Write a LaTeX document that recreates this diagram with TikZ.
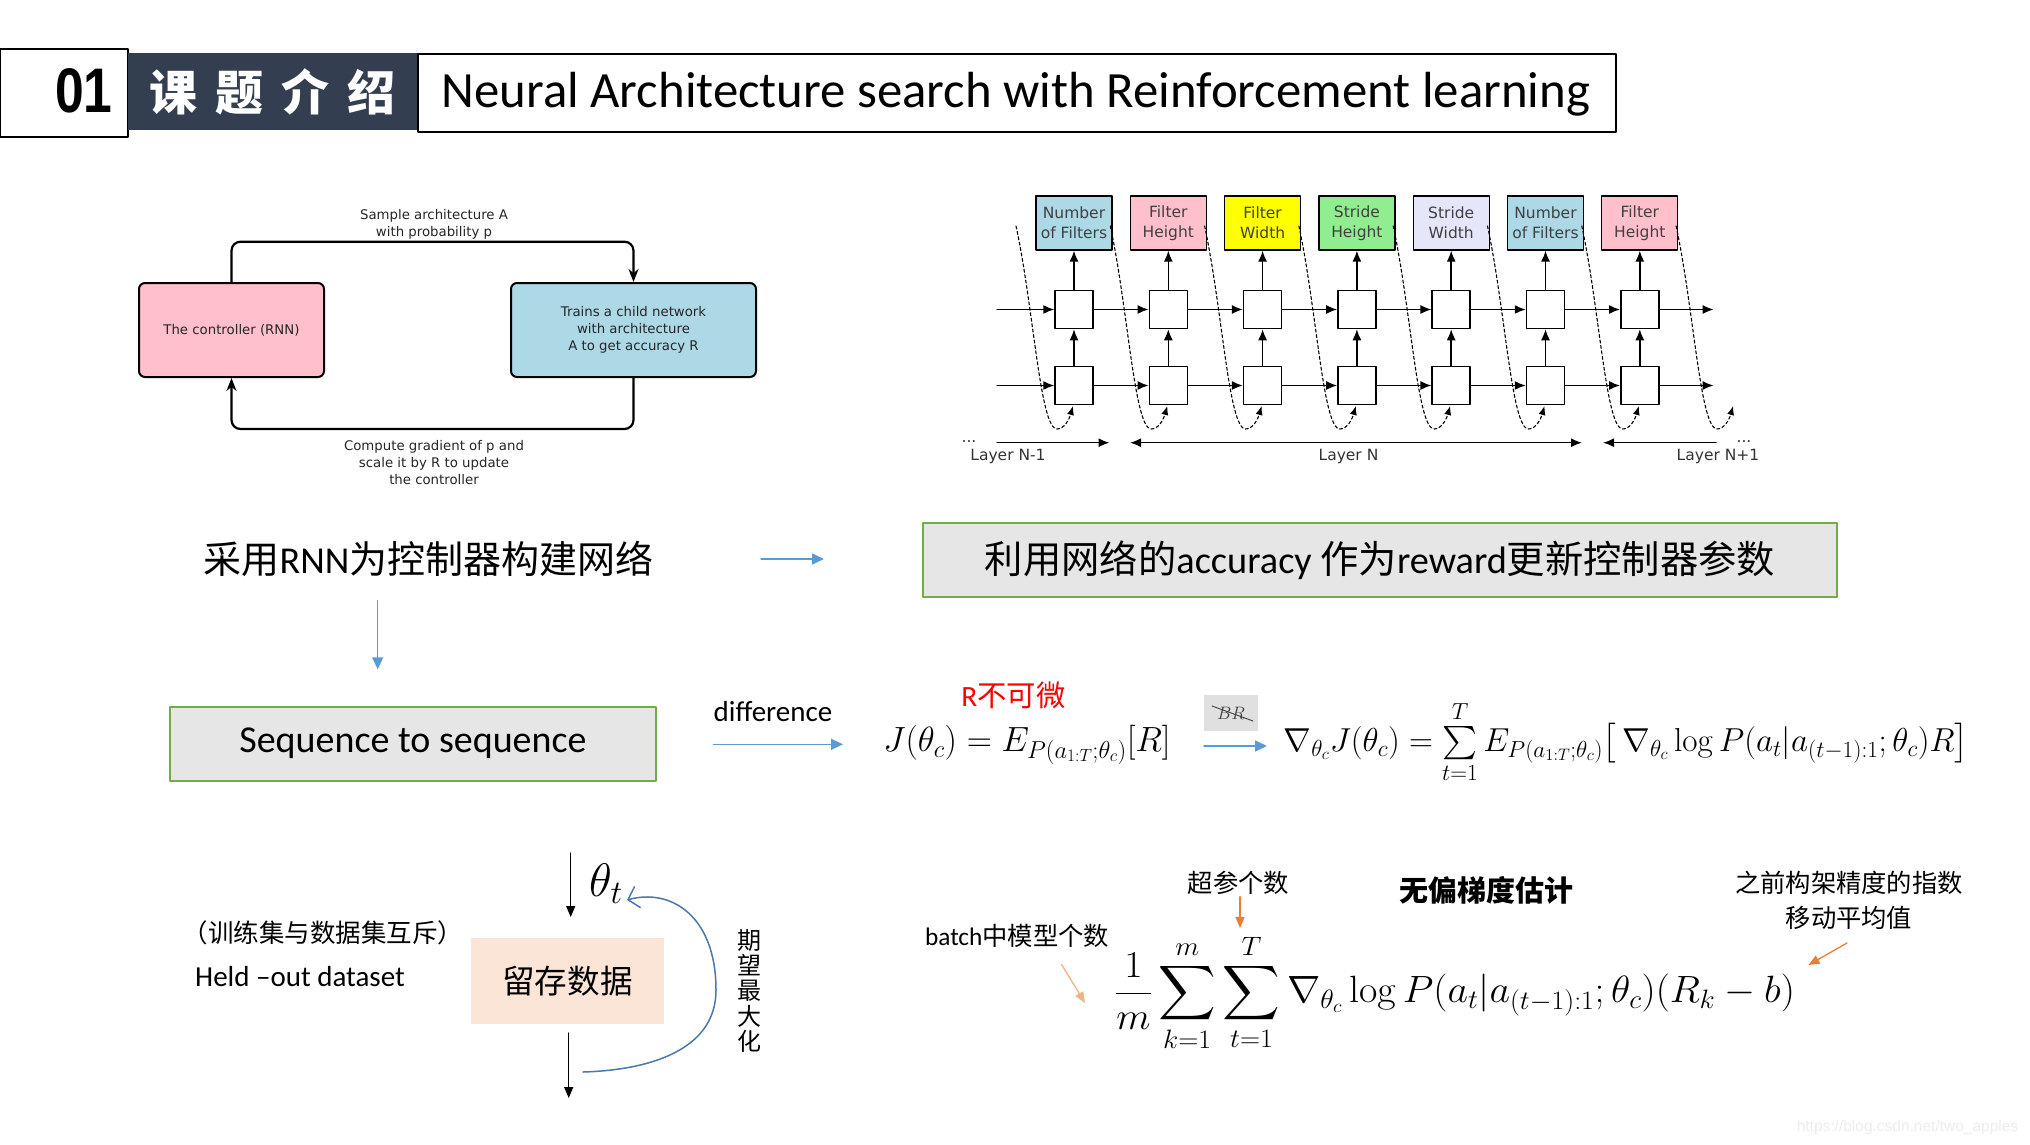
\RequirePackage{fix-cm}
\documentclass[tikz,border=0pt]{standalone}
\usepackage{amsmath}
\usepackage[no-math]{fontspec}
\setmainfont{Carlito}
\newfontfamily\cjk{Noto Sans CJK SC}
\newfontfamily\dejavu{DejaVu Sans}
\newfontfamily\arialfont{Liberation Sans}
\usepackage{xcolor}
\usetikzlibrary{arrows,arrows.meta,calc,positioning}
% big operators follow the font size
\DeclareFontShape{OMX}{cmex}{m}{n}{<->cmex10}{}

\definecolor{slide}{HTML}{333F50}
\definecolor{pptblue}{HTML}{5B9BD5}
\definecolor{pptgreen}{HTML}{70AD47}
\definecolor{pptgray}{HTML}{E7E6E6}
\definecolor{pptorange}{HTML}{ED7D31}
\definecolor{pptpeach}{HTML}{F4B183}
\definecolor{pptsand}{HTML}{FBE5D6}
\definecolor{handblue}{HTML}{4A78AA}
\definecolor{nasblue}{HTML}{ADD8E6}
\definecolor{naspink}{HTML}{FFC0CB}
\definecolor{nasyellow}{HTML}{FFFF00}
\definecolor{nasgreen}{HTML}{90EE90}
\definecolor{naslav}{HTML}{E6E6FA}

\tikzset{>=latex}
\tikzset{
  loopbox/.style={draw, line width=2pt, rounded corners=6pt, minimum height=94pt, align=center, text=black!85, font=\dejavu\fontsize{13.3}{16.7}\selectfont},
  loopline/.style={line width=2.2pt, rounded corners=9pt, -{Stealth[length=13pt,width=10pt]}},
  looplabel/.style={align=center, text=black!85, font=\dejavu\fontsize{13.3}{16.7}\selectfont},
  param/.style={draw, line width=1.3pt, minimum width=76pt, minimum height=54pt, inner sep=0pt, align=center, text=black!75, font=\dejavu\fontsize{15.5}{20}\selectfont},
  cell/.style={draw, line width=1.5pt, fill=white, minimum size=38pt, inner sep=0pt},
  nasarrow/.style={line width=1.5pt, -{Latex[length=11pt,width=9pt]}},
  feedback/.style={line width=1.1pt, dash pattern=on 3pt off 2.5pt, -{Latex[length=9pt,width=7pt]}},
  layertext/.style={text=black!80, font=\dejavu\fontsize{15.5}{18}\selectfont},
  greybox/.style={draw=pptgreen, line width=2pt, fill=pptgray, inner sep=0pt},
  bluearrow/.style={pptblue, line width=1.5pt, -{Triangle[length=12pt,width=11pt]}},
  blackarrow/.style={line width=1.3pt, -{Triangle[length=11pt,width=9pt]}},
  orangearrow/.style={line width=1.3pt, -{Triangle[length=11pt,width=9pt]}},
  cjktext/.style={font=\cjk\fontsize{#1}{#1}\selectfont},
  note/.style={align=center, font=\cjk\fontsize{25.3}{35}\selectfont},
}

\begin{document}
\begin{tikzpicture}[x=1pt,y=-1pt,line cap=round,line join=round]
\useasboundingbox[fill=white] (0,0) rectangle (2030,1145);

% header
\node[draw, line width=2pt, minimum width=127.6pt, minimum height=88pt] (numbox) at (63.8,93) {};
\node[font=\arialfont\bfseries\fontsize{63}{63}\selectfont] (num) at (84,91) {\scalebox{0.82}[1]{01}};
\node[fill=slide, text=white, minimum width=290.4pt, minimum height=77pt, font=\cjk\bfseries\fontsize{48}{48}\selectfont] (topic) at (272.8,91.5)
  {课\hspace{18pt}题\hspace{18pt}介\hspace{18pt}绍};
\node[draw, line width=2pt, minimum width=1198pt, minimum height=77.7pt] (titlebox) at (1017,92.8) {};
\node[anchor=base west, font=\fontsize{50.8}{60}\selectfont] (title) at (438,108) {Neural Architecture search with Reinforcement learning};

% controller loop
\node[loopbox, fill=naspink, minimum width=185pt] (ctrl) at (231.5,330) {The controller (RNN)};
\node[loopbox, fill=nasblue, minimum width=245pt] (child) at (633.5,330) {Trains a child network\\with architecture\\A to get accuracy R};
\coordinate (toploop) at (433,241.7);
\coordinate (botloop) at (433,429);
\draw[loopline] (ctrl.north) |- (toploop) -| (child.north);
\draw[loopline] (child.south) |- (botloop) -| (ctrl.south);
\node[looplabel] (samplelbl) at (434,224.3) {Sample architecture A\\with probability p};
\node[looplabel] (gradlbl) at (434,462.7) {Compute gradient of p and\\scale it by R to update\\the controller};

% controller RNN unrolled
\foreach \i/\c/\t in {1/nasblue/{Number\\of Filters}, 2/naspink/{Filter\\Height}, 3/nasyellow/{Filter\\Width},
    4/nasgreen/{Stride\\Height}, 5/naslav/{Stride\\Width}, 6/nasblue/{Number\\of Filters}, 7/naspink/{Filter\\Height}} {
  \pgfmathsetmacro{\cx}{1074+(\i-1)*94.3}
  \node[param, fill=\c] (p\i) at (\cx,223) {\t};
  \node[cell] (u\i) at (\cx,309.5) {};
  \node[cell] (l\i) at (\cx,385.5) {};
  \draw[nasarrow] (l\i) -- (u\i);
  \draw[nasarrow] (u\i) -- (p\i);
}
\foreach \i [count=\j from 2] in {1,...,6} {
  \draw[nasarrow] (u\i.east) -- (u\j.west);
  \draw[nasarrow] (l\i.east) -- (l\j.west);
}
\coordinate (uin) at (997,309.5);
\coordinate (lin) at (997,385.5);
\coordinate (uout) at (1713.6,309.5);
\coordinate (lout) at (1713.6,385.5);
\draw[nasarrow] (uin) -- (u1.west);
\draw[nasarrow] (lin) -- (l1.west);
\draw[nasarrow] (u7.east) -- (uout);
\draw[nasarrow] (l7.east) -- (lout);
% sampled value fed back to next step
\foreach \i in {1,...,8} {
  \pgfmathsetmacro{\cx}{1074+(\i-1)*94.3}
  \draw[feedback] (\cx-58,226) .. controls (\cx-40,310) and (\cx-34,429) .. (\cx-17,429)
    .. controls (\cx-10,429) and (\cx-5,420) .. (\cx-1,406);
}
% layers
\coordinate (la1) at (997,442.7);
\coordinate (la2) at (1109.5,442.7);
\coordinate (lb1) at (1130,442.7);
\coordinate (lb2) at (1582,442.7);
\coordinate (lc1) at (1603,442.7);
\coordinate (lc2) at (1716,442.7);
\draw[nasarrow] (la1) -- (la2);
\draw[line width=1.5pt, {Latex[length=11pt,width=9pt]}-{Latex[length=11pt,width=9pt]}] (lb1) -- (lb2);
\draw[line width=1.5pt, {Latex[length=11pt,width=9pt]}-] (lc1) -- (lc2);
\node[layertext] (dotsl) at (969,442) {...};
\node[layertext] (dotsr) at (1744,442) {...};
\node[layertext] (layerprev) at (1008,456) {Layer N-1};
\node[layertext] (layercur) at (1348.5,456) {Layer N};
\node[layertext] (layernext) at (1718,456) {Layer N+1};

% middle row
\node[font=\fontsize{38}{46}\selectfont] (rnntext) at (428.5,559) {{\cjk 采用}RNN{\cjk 为控制器构建网络}};
\coordinate (ra1) at (761,559);
\coordinate (ra2) at (824,559);
\draw[bluearrow] (ra1) -- (ra2);
\node[greybox, minimum width=914pt, minimum height=74.6pt, font=\fontsize{38.3}{46}\selectfont] (rewardbox) at (1380,560)
  {{\cjk 利用网络的}accuracy {\cjk 作为}reward{\cjk 更新控制器参数}};
\coordinate (da1) at (377.7,600.7);
\coordinate (da2) at (377.7,669.3);
\draw[bluearrow] (da1) -- (da2);
\node[greybox, minimum width=486pt, minimum height=74pt, font=\fontsize{38}{46}\selectfont] (seqbox) at (413,743.7) {\raisebox{-3pt}{Sequence to sequence}};
\node[font=\fontsize{29}{34}\selectfont] (difflbl) at (773,711.7) {difference};
\coordinate (df1) at (713.4,744.3);
\coordinate (df2) at (843,744.3);
\draw[bluearrow] (df1) -- (df2);
\node[text=red, font=\fontsize{29.4}{34}\selectfont] (notdiff) at (1013.5,695) {R{\cjk 不可微}};
\node[inner sep=0pt, font=\fontsize{35}{40}\selectfont] (jtheta) at (1027,745) {$J(\theta_c)=E_{P(a_{1:T};\theta_c)}[R]$};
\node[fill=black!12, minimum width=54pt, minimum height=36pt, inner sep=0pt, text=black!75, font=\fontsize{18}{20}\selectfont] (brbox) at (1231,713) {$BR$};
\draw[black!75, line width=0.9pt] ($(brbox.center)+(-19,-7)$) -- ($(brbox.center)+(22,8)$);
\coordinate (gr1) at (1204,746);
\coordinate (gr2) at (1267,746);
\draw[bluearrow] (gr1) -- (gr2);
\node[inner sep=0pt, font=\fontsize{33.2}{40}\selectfont] (grad) at (1626,742)
  {$\nabla_{\theta_c}J(\theta_c)=\sum\limits_{t=1}^{T}E_{P(a_{1:T};\theta_c)}\big[\,\nabla_{\theta_c}\log P(a_t|a_{(t-1):1};\theta_c)R\big]$};

% estimator
\node[inner sep=0pt, font=\fontsize{38}{44}\selectfont] (estimate) at (1455,993)
  {\scalebox{1.05}[1]{$\displaystyle\frac{1}{m}\sum_{k=1}^{m}\sum_{t=1}^{T}\nabla_{\theta_c}\log P(a_t|a_{(t-1):1};\theta_c)(R_k-b)$}};
\node[note] (hyper) at (1238.5,883) {超参个数};
\coordinate (ha1) at (1240,896.7);
\coordinate (ha2) at (1240,928);
\draw[orangearrow, pptorange] (ha1) -- (ha2);
\node[font=\cjk\bfseries\fontsize{29}{34}\selectfont] (unbiased) at (1486,890) {无偏梯度估计};
\node[note] (baseline) at (1849,900.6) {之前构架精度的指数\\移动平均值};
\coordinate (ba1) at (1847,943);
\coordinate (ba2) at (1808.5,965);
\draw[orangearrow, pptorange] (ba1) -- (ba2);
\node[font=\fontsize{25.3}{30}\selectfont] (batch) at (1017,936) {batch{\cjk 中模型个数}};
\coordinate (bm1) at (1061.6,964.5);
\coordinate (bm2) at (1085,1003);
\draw[orangearrow, pptpeach] (bm1) -- (bm2);

% held-out data
\node[cjktext=25.5] (mutex) at (323,933) {（训练集与数据集互斥）};
\node[font=\fontsize{29}{34}\selectfont] (heldout) at (300,977) {Held –out dataset};
\node[fill=pptsand, minimum width=193pt, minimum height=86pt, cjktext=32.6] (store) at (567.5,981.3) {留存数据};
\coordinate (sa1) at (570.7,853);
\coordinate (sa2) at (570.7,917);
\coordinate (sb1) at (568.7,1033);
\coordinate (sb2) at (568.7,1098);
\draw[blackarrow] (sa1) -- (sa2);
\draw[blackarrow] (sb1) -- (sb2);
\node[font=\fontsize{47}{52}\selectfont] (thetat) at (606,884) {$\theta_t$};
\coordinate (handstart) at (583,1072);
\coordinate (handtip) at (627,900);
\draw[handblue, line width=1.5pt, -{Straight Barb[length=10pt,width=22pt]}] (handstart) .. controls (650,1070) and (716,1050) .. (716,990)
  .. controls (716,915) and (670,888) .. (handtip);
\node[align=center, font=\cjk\fontsize{24}{25.4}\selectfont] (maxexp) at (749,991) {期\\望\\最\\大\\化};

\node[text=black!7, font=\arialfont\fontsize{15.5}{18}\selectfont] (mark) at (1907.5,1127) {https://blog.csdn.net/two\_apples};
\end{tikzpicture}
\end{document}
